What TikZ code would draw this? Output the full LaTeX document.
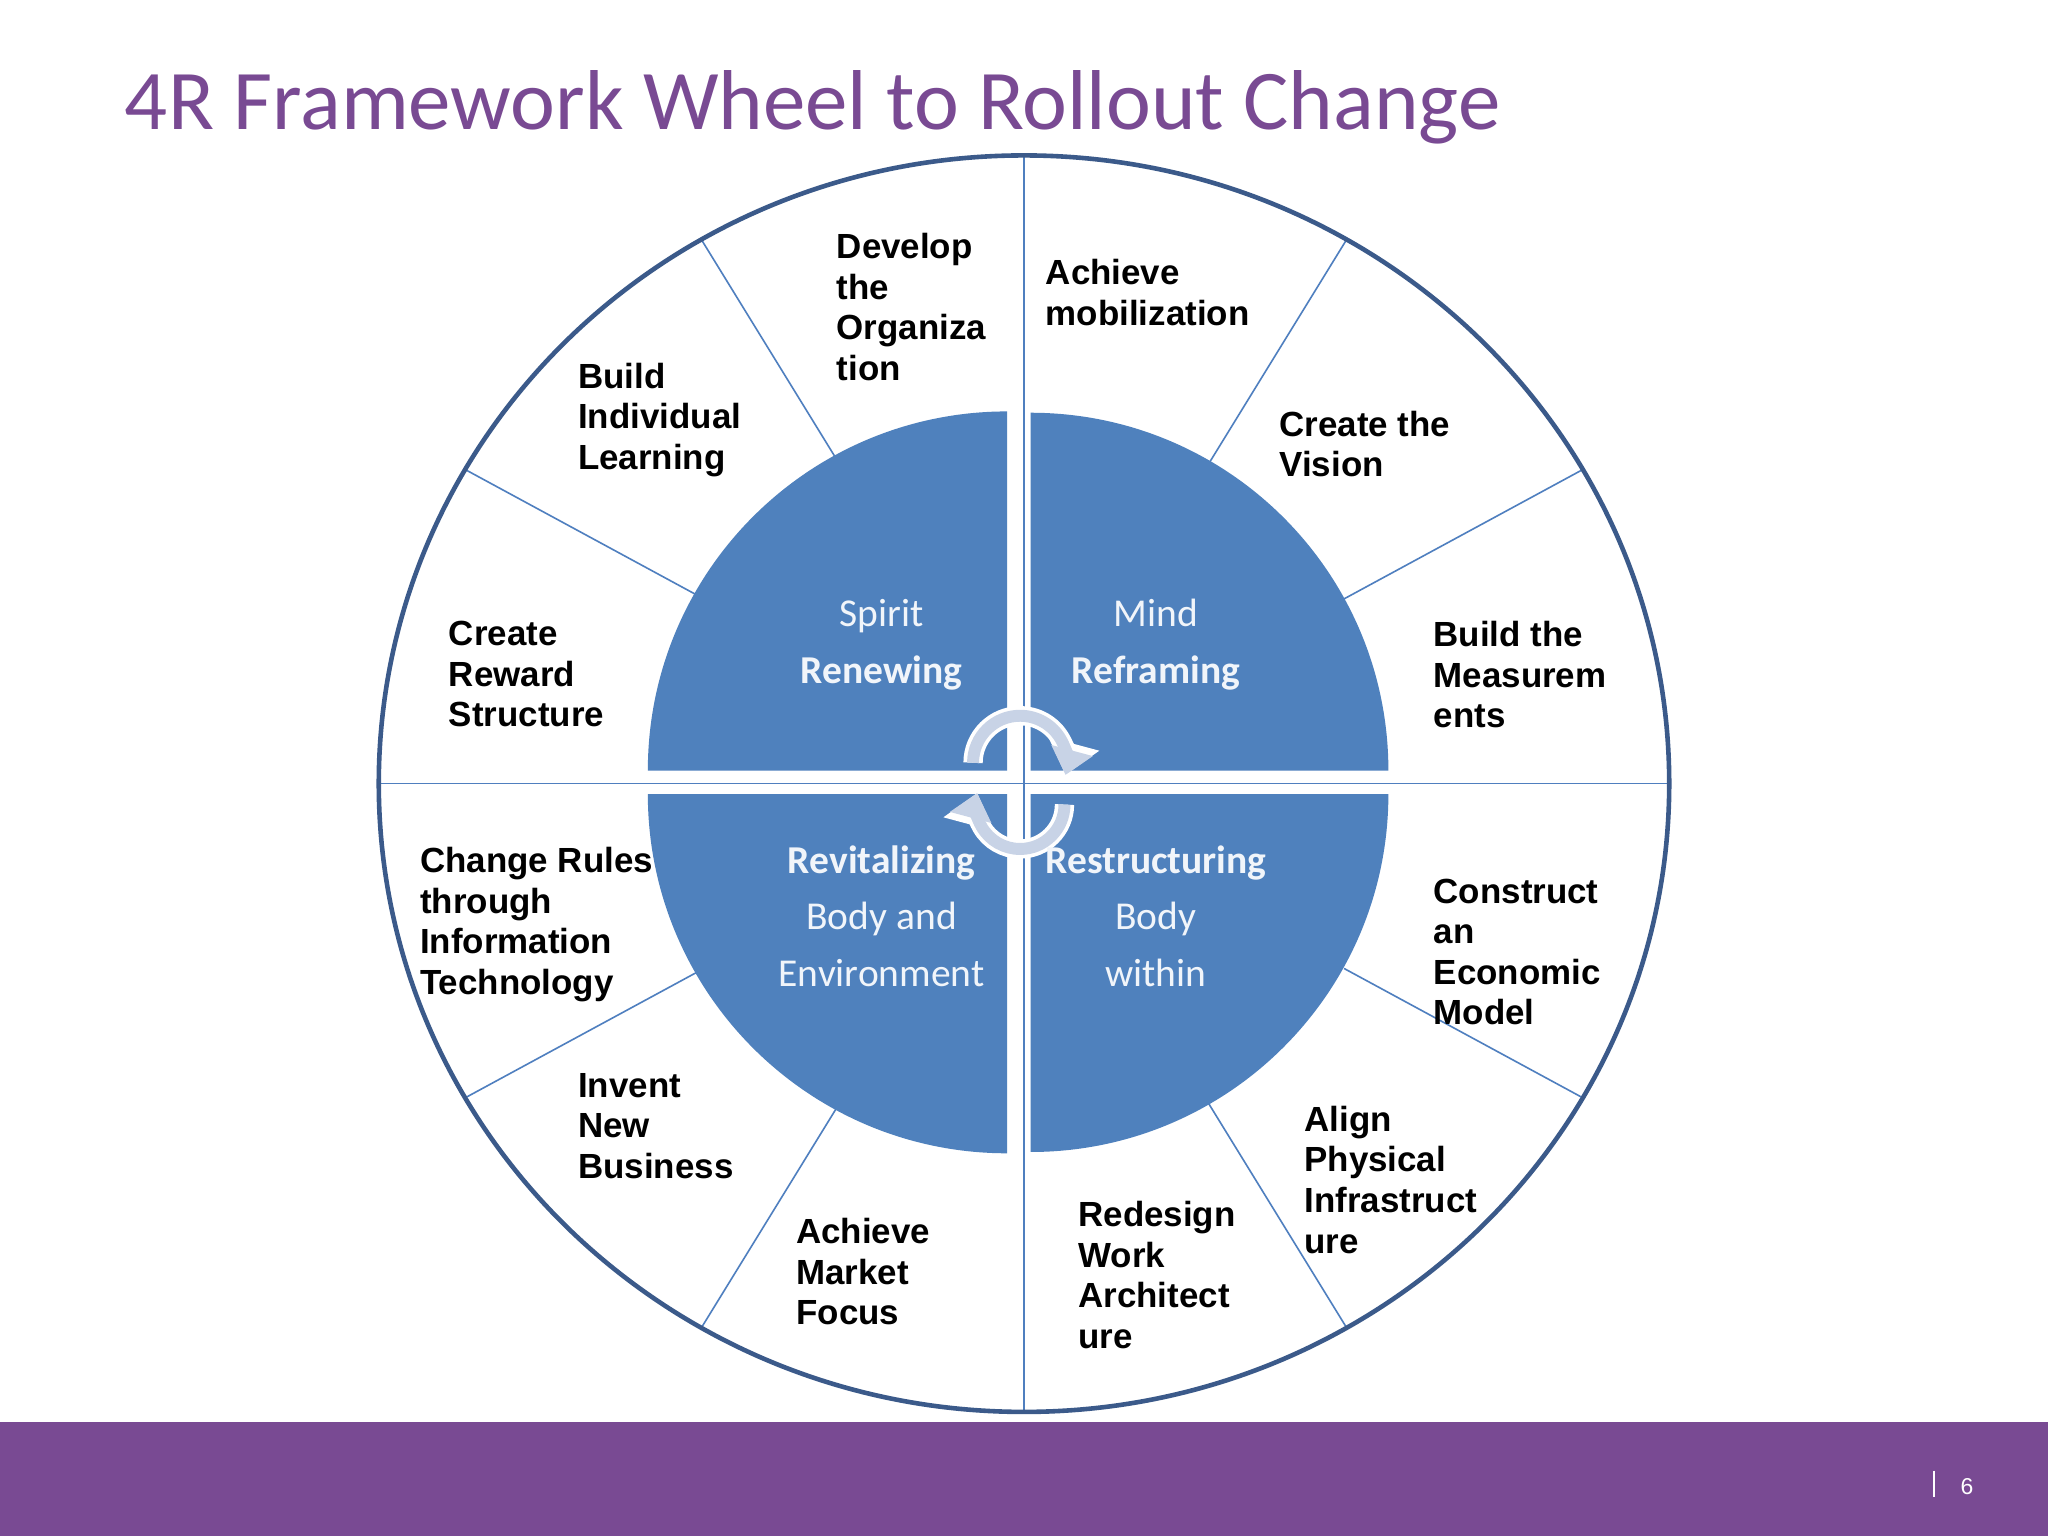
\documentclass[tikz,border=0pt]{standalone}
\usepackage{fontspec}
\setmainfont{Liberation Sans}
\newfontfamily\carl{Carlito}
\usetikzlibrary{arrows.meta,calc}
\definecolor{ring}{HTML}{3B5A8A}
\definecolor{spoke}{HTML}{4F7FBF}
\definecolor{inner}{HTML}{4F81BD}
\definecolor{purp}{HTML}{794A93}
\definecolor{arr}{HTML}{C8D3E6}
\begin{document}
\begin{tikzpicture}[x=0.01cm,y=-0.01cm,
  lbl/.style={anchor=north west,inner sep=0pt,align=left,font=\fontsize{7.6}{8.85}\selectfont\bfseries},
  inn/.style={anchor=base,inner sep=0pt,text=white!92!inner,font=\carl\fontsize{8.6}{10}\selectfont},
  innb/.style={inn,font=\carl\fontsize{8.6}{10}\selectfont\bfseries},
  sp/.style={draw=spoke,line width=0.35pt}]
\useasboundingbox (0,0) rectangle (1568,1176);
\fill[white] (0,0) rectangle (1568,1176);
\fill[purp] (0,1089) rectangle (1568,1176);
\draw[white,line width=0.4pt] (1481,1126) -- (1481,1146);
\node[anchor=base,text=white,font=\fontsize{5}{6}\selectfont] (pg) at (1506,1144) {6};
\node[anchor=base west,inner sep=0pt,text=purp,font=\carl\fontsize{18.5}{22}\selectfont] (title) at (95,99) {4R Framework Wheel to Rollout Change};
% wheel
\coordinate (c) at (784,600);
\draw[sp] (784,119) -- (784,1082);
\draw[sp] (290,600) -- (1278,600);
\foreach \a in {30,60,120,150,210,240,300,330}{
  \draw[sp] ($(c)+(\a:283)$) -- ($(c)+(\a:494 and 481)$);
}
\draw[ring,line width=1pt] (c) ellipse [x radius=494,y radius=481];
% inner quarters
\fill[inner] (771,590) -- ++(-275,0) arc[start angle=180,end angle=270,radius=275] -- cycle;
\fill[inner] (789,590) -- ++(274,0) arc[start angle=0,end angle=-90,radius=274] -- cycle;
\fill[inner] (771,608) -- ++(-275,0) arc[start angle=180,end angle=90,radius=275] -- cycle;
\fill[inner] (789,608) -- ++(274,0) arc[start angle=0,end angle=90,radius=274] -- cycle;
% arrows
\coordinate (a1) at (745,584);
\coordinate (a2) at (815,616);
\draw[white,line width=4.2pt,-{Triangle[length=7pt,width=11pt]}] (a1) arc[start angle=180,end angle=375,radius=36];
\draw[arr,line width=2.6pt,-{Triangle[length=5.5pt,width=9pt]}] (a1) arc[start angle=180,end angle=375,radius=36];
\draw[white,line width=4.2pt,-{Triangle[length=7pt,width=11pt]}] (a2) arc[start angle=0,end angle=195,radius=34];
\draw[arr,line width=2.6pt,-{Triangle[length=5.5pt,width=9pt]}] (a2) arc[start angle=0,end angle=195,radius=34];
% inner text
\node[inn] (t1) at (675,480) {Spirit};
\node[innb] (t2) at (675,523) {Renewing};
\node[inn] (t3) at (885,480) {Mind};
\node[innb] (t4) at (885,523) {Reframing};
\node[innb] (t5) at (675,669) {Revitalizing};
\node[inn] (t6) at (675,712) {Body and};
\node[inn] (t7) at (675,755) {Environment};
\node[innb] (t8) at (885,669) {Restructuring};
\node[inn] (t9) at (885,712) {Body};
\node[inn] (t10) at (885,755) {within};
% labels
\node[lbl] (l1) at (640,178) {Develop\\the\\Organiza\\tion};
\node[lbl] (l2) at (800,198) {Achieve\\mobilization};
\node[lbl] (l3) at (442,277) {Build\\Individual\\Learning};
\node[lbl] (l4) at (979,314) {Create the\\Vision};
\node[lbl] (l5) at (343,475) {Create\\Reward\\Structure};
\node[lbl] (l6) at (1097,475) {Build the\\Measurem\\ents};
\node[lbl] (l7) at (321,648) {Change Rules\\through\\Information\\Technology};
\node[lbl] (l8) at (1097,672) {Construct\\an\\Economic\\Model};
\node[lbl] (l9) at (442,821) {Invent\\New\\Business};
\node[lbl] (l10) at (998,846) {Align\\Physical\\Infrastruct\\ure};
\node[lbl] (l11) at (609,932) {Achieve\\Market\\Focus};
\node[lbl] (l12) at (825,919) {Redesign\\Work\\Architect\\ure};
\end{tikzpicture}
\end{document}
